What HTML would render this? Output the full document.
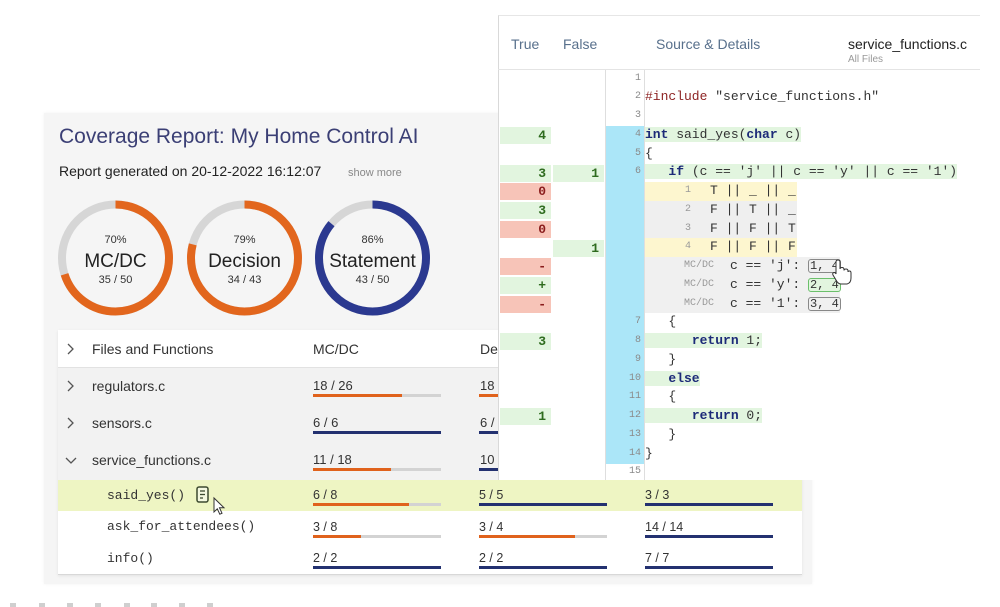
<!DOCTYPE html>
<html><head><meta charset="utf-8">
<style>
html,body{margin:0;padding:0;}
body{width:1000px;height:607px;overflow:hidden;background:#fff;position:relative;font-family:"Liberation Sans",sans-serif;color:#333;}
.a{position:absolute;white-space:pre;}
.s{font-family:"Liberation Sans",sans-serif;}
.m{font-family:"Liberation Mono",monospace;}
.z1{z-index:1}.z2{z-index:2}.z3{z-index:3}.z4{z-index:4}
.kw{color:#1c2a78;font-weight:bold;}
.pp{color:#8e2424;}
.cell{position:absolute;height:17px;line-height:17px;width:51px;text-align:right;box-sizing:border-box;padding-right:5px;font-family:"Liberation Mono",monospace;font-weight:bold;font-size:13px;z-index:3;}
.g{background:#e2f5df;color:#2e6b1e;}
.r{background:#f7c4b8;color:#8a1c1c;}
.ln{position:absolute;left:606px;width:35px;text-align:right;font-family:"Liberation Mono",monospace;font-size:10px;color:#8a8a8a;z-index:3;height:18.75px;line-height:18.75px;}
.code{position:absolute;left:645px;font-family:"Liberation Mono",monospace;font-size:13px;color:#333;z-index:3;height:18.75px;line-height:18.75px;white-space:pre;}
.cb{background:#e2f5df;}
.box{display:inline-block;border:1.5px solid #888;border-radius:3px;line-height:12px;padding:0 1px;font-size:12px;}
.boxg{border-color:#6bbf6b;background:#e2f5df;}
</style></head><body>

<!-- Left panel background -->
<div class="a z1" style="left:44px;top:113px;width:768px;height:471px;background:#f5f5f5;box-shadow:0 0 3px rgba(0,0,0,0.06);"></div>

<div class="a z1 s" style="left:59px;top:124px;line-height:26px;font-size:21px;color:#3b3f75;">Coverage Report: My Home Control AI</div>
<div class="a z1 s" style="left:59px;top:162px;line-height:18px;font-size:14px;color:#222;">Report generated on 20-12-2022 16:12:07</div>
<div class="a z1 s" style="left:348px;top:166px;line-height:14px;font-size:11px;color:#888;">show more</div>

<!-- table box -->
<div class="a z1" style="left:58px;top:330px;width:744px;height:244px;background:#fff;border-bottom:1px solid #d8d8d8;box-shadow:0 1px 3px rgba(0,0,0,0.08);"></div>
<div class="a z1" style="left:58px;top:367px;width:744px;height:113px;background:#f2f2f2;border-top:1px solid #e2e2e2;"></div>
<div class="a z1" style="left:58px;top:480px;width:744px;height:31px;background:#eef5c3;"></div>

<svg class="a z1" style="left:0;top:0" width="1000" height="607" viewBox="0 0 1000 607">
  <!-- donuts -->
  <g fill="none" stroke-width="8">
    <circle cx="115.5" cy="258" r="53.5" stroke="#d6d6d6"/>
    <circle cx="115.5" cy="258" r="53.5" stroke="#e2661d" stroke-dasharray="235.3 400" transform="rotate(-90 115.5 258)"/>
    <circle cx="244.5" cy="258" r="53.5" stroke="#d6d6d6"/>
    <circle cx="244.5" cy="258" r="53.5" stroke="#e2661d" stroke-dasharray="265.6 400" transform="rotate(-90 244.5 258)"/>
    <circle cx="372.5" cy="258" r="53.5" stroke="#d6d6d6"/>
    <circle cx="372.5" cy="258" r="53.5" stroke="#2b3990" stroke-dasharray="289.1 400" transform="rotate(-90 372.5 258)"/>
  </g>
  <g font-family="Liberation Sans, sans-serif" text-anchor="middle" fill="#333">
    <text x="115.5" y="243" font-size="11">70%</text>
    <text x="115.5" y="267" font-size="19" fill="#222">MC/DC</text>
    <text x="115.5" y="283" font-size="11">35 / 50</text>
    <text x="244.5" y="243" font-size="11">79%</text>
    <text x="244.5" y="267" font-size="19" fill="#222">Decision</text>
    <text x="244.5" y="283" font-size="11">34 / 43</text>
    <text x="372.5" y="243" font-size="11">86%</text>
    <text x="372.5" y="267" font-size="19" fill="#222">Statement</text>
    <text x="372.5" y="283" font-size="11">43 / 50</text>
  </g>
  <!-- chevrons -->
  <g fill="none" stroke="#555" stroke-width="1.3">
    <polyline points="68,344 73,349 68,354"/>
    <polyline points="68,381 73,386 68,391"/>
    <polyline points="68,418 73,423 68,428"/>
    <polyline points="66,458 71,463 76,458"/>
  </g>
  <!-- bars -->
  <g>
    <!-- regulators -->
    <rect x="313" y="394" width="128" height="3" fill="#d3d3d3"/><rect x="313" y="394" width="89" height="3" fill="#e0621c"/>
    <rect x="479" y="394" width="128" height="3" fill="#d3d3d3"/><rect x="479" y="394" width="90" height="3" fill="#e0621c"/>
    <!-- sensors -->
    <rect x="313" y="431" width="128" height="3" fill="#233170"/>
    <rect x="479" y="431" width="128" height="3" fill="#233170"/>
    <!-- service_functions -->
    <rect x="313" y="468" width="128" height="3" fill="#d3d3d3"/><rect x="313" y="468" width="78" height="3" fill="#e0621c"/>
    <rect x="479" y="468" width="128" height="3" fill="#233170"/>
    <!-- said_yes -->
    <rect x="313" y="503" width="128" height="3" fill="#d3d3d3"/><rect x="313" y="503" width="96" height="3" fill="#e0621c"/>
    <rect x="479" y="503" width="128" height="3" fill="#233170"/>
    <rect x="645" y="503" width="128" height="3" fill="#233170"/>
    <!-- ask -->
    <rect x="313" y="535" width="128" height="3" fill="#d3d3d3"/><rect x="313" y="535" width="48" height="3" fill="#e0621c"/>
    <rect x="479" y="535" width="128" height="3" fill="#d3d3d3"/><rect x="479" y="535" width="96" height="3" fill="#e0621c"/>
    <rect x="645" y="535" width="128" height="3" fill="#233170"/>
    <!-- info -->
    <rect x="313" y="566" width="128" height="3" fill="#233170"/>
    <rect x="479" y="566" width="128" height="3" fill="#233170"/>
    <rect x="645" y="566" width="128" height="3" fill="#233170"/>
  </g>
  <!-- doc icon -->
  <rect x="197" y="487" width="11" height="15" rx="2" fill="#f4f8e0" stroke="#3d4a30" stroke-width="1.5"/>
  <line x1="200" y1="491" x2="205" y2="491" stroke="#3d4a30" stroke-width="1.3"/>
  <line x1="200" y1="494.5" x2="205" y2="494.5" stroke="#3d4a30" stroke-width="1.3"/>
  <line x1="200" y1="498" x2="203" y2="498" stroke="#3d4a30" stroke-width="1.3"/>
  <!-- arrow cursor -->
  <path d="M214,498 L214,512 L217.3,508.8 L219.8,514.2 L222,513.2 L219.5,507.8 L224,507.8 Z" fill="#fff" stroke="#333" stroke-width="1"/>
  <!-- bottom dots -->
  <g fill="#cfcfcf">
    <rect x="10" y="603" width="6" height="4"/><rect x="39" y="603" width="6" height="4"/>
    <rect x="67" y="603" width="6" height="4"/><rect x="95" y="603" width="6" height="4"/>
    <rect x="124" y="603" width="6" height="4"/><rect x="151" y="603" width="6" height="4"/>
    <rect x="179" y="603" width="6" height="4"/><rect x="207" y="603" width="6" height="4"/>
  </g>
</svg>

<!-- table text -->
<div class="a z1 s" style="left:92px;top:340px;line-height:18px;font-size:14px;color:#333;">Files and Functions</div>
<div class="a z1 s" style="left:313px;top:340px;line-height:18px;font-size:14px;color:#333;">MC/DC</div>
<div class="a z1 s" style="left:480px;top:340px;line-height:18px;font-size:14px;color:#333;">Decision</div>

<div class="a z1 s" style="left:92px;top:377px;line-height:18px;font-size:14px;color:#333;">regulators.c</div>
<div class="a z1 s" style="left:313px;top:378px;line-height:16px;font-size:13px;color:#333;">18 / 26</div>
<div class="a z1 s" style="left:480px;top:378px;line-height:16px;font-size:13px;color:#333;">18 / 26</div>
<div class="a z1 s" style="left:92px;top:414px;line-height:18px;font-size:14px;color:#333;">sensors.c</div>
<div class="a z1 s" style="left:313px;top:415px;line-height:16px;font-size:13px;color:#333;">6 / 6</div>
<div class="a z1 s" style="left:480px;top:415px;line-height:16px;font-size:13px;color:#333;">6 / 6</div>
<div class="a z1 s" style="left:92px;top:451px;line-height:18px;font-size:14px;color:#333;">service_functions.c</div>
<div class="a z1 s" style="left:313px;top:452px;line-height:16px;font-size:13px;color:#333;">11 / 18</div>
<div class="a z1 s" style="left:480px;top:452px;line-height:16px;font-size:13px;color:#333;">10 / 10</div>

<div class="a z1 m" style="left:107px;top:487px;line-height:17px;font-size:13px;color:#333;">said_yes()</div>
<div class="a z1 s" style="left:313px;top:487px;line-height:16px;font-size:12.5px;color:#333;">6 / 8</div>
<div class="a z1 s" style="left:479px;top:487px;line-height:16px;font-size:12.5px;color:#333;">5 / 5</div>
<div class="a z1 s" style="left:645px;top:487px;line-height:16px;font-size:12.5px;color:#333;">3 / 3</div>

<div class="a z1 m" style="left:107px;top:518px;line-height:17px;font-size:13px;color:#333;">ask_for_attendees()</div>
<div class="a z1 s" style="left:313px;top:519px;line-height:16px;font-size:12.5px;color:#333;">3 / 8</div>
<div class="a z1 s" style="left:479px;top:519px;line-height:16px;font-size:12.5px;color:#333;">3 / 4</div>
<div class="a z1 s" style="left:645px;top:519px;line-height:16px;font-size:12.5px;color:#333;">14 / 14</div>

<div class="a z1 m" style="left:107px;top:550px;line-height:17px;font-size:13px;color:#333;">info()</div>
<div class="a z1 s" style="left:313px;top:550px;line-height:16px;font-size:12.5px;color:#333;">2 / 2</div>
<div class="a z1 s" style="left:479px;top:550px;line-height:16px;font-size:12.5px;color:#333;">2 / 2</div>
<div class="a z1 s" style="left:645px;top:550px;line-height:16px;font-size:12.5px;color:#333;">7 / 7</div>

<!-- CODE PANEL -->
<div class="a z2" style="left:498px;top:15px;width:482px;height:465px;background:#fff;border-left:1px solid #d9d9d9;border-top:1px solid #e6e6e6;box-sizing:border-box;"></div>
<div class="a z3" style="left:498px;top:69px;width:482px;height:1px;background:#e4e4e4;"></div>
<div class="a z3" style="left:605px;top:70px;width:1px;height:410px;background:#dedede;"></div>
<div class="a z3" style="left:644px;top:70px;width:1px;height:410px;background:#dedede;"></div>
<div class="a z3" style="left:606px;top:126px;width:38px;height:337.5px;background:#abe6f8;"></div>

<div class="a z3 s" style="left:511px;top:35px;line-height:18px;font-size:14px;color:#58708c;">True</div>
<div class="a z3 s" style="left:563px;top:35px;line-height:18px;font-size:14px;color:#58708c;">False</div>
<div class="a z3 s" style="left:656px;top:35px;line-height:18px;font-size:14px;color:#58708c;">Source &amp; Details</div>
<div class="a z3 s" style="left:848px;top:35px;line-height:18px;font-size:14px;color:#222;">service_functions.c</div>
<div class="a z3 s" style="left:848px;top:54px;line-height:12px;font-size:10px;color:#999;">All Files</div>

<!-- line numbers -->
<div class="ln" style="top:69.7px">1</div>
<div class="ln" style="top:88.45px">2</div>
<div class="ln" style="top:107.2px">3</div>
<div class="ln" style="top:125.95px">4</div>
<div class="ln" style="top:144.7px">5</div>
<div class="ln" style="top:163.45px">6</div>
<div class="ln" style="top:313.45px">7</div>
<div class="ln" style="top:332.2px">8</div>
<div class="ln" style="top:350.95px">9</div>
<div class="ln" style="top:369.7px">10</div>
<div class="ln" style="top:388.45px">11</div>
<div class="ln" style="top:407.2px">12</div>
<div class="ln" style="top:425.95px">13</div>
<div class="ln" style="top:444.7px">14</div>
<div class="ln" style="top:463.45px">15</div>

<!-- true/false cells -->
<div class="cell g" style="left:500px;top:127px">4</div>
<div class="cell g" style="left:500px;top:164.5px">3</div>
<div class="cell g" style="left:553px;top:164.5px">1</div>
<div class="cell r" style="left:500px;top:183.2px">0</div>
<div class="cell g" style="left:500px;top:202px">3</div>
<div class="cell r" style="left:500px;top:220.7px">0</div>
<div class="cell g" style="left:553px;top:239.5px">1</div>
<div class="cell r" style="left:500px;top:258.2px">-</div>
<div class="cell g" style="left:500px;top:277px">+</div>
<div class="cell r" style="left:500px;top:295.7px">-</div>
<div class="cell g" style="left:500px;top:333.2px">3</div>
<div class="cell g" style="left:500px;top:408.2px">1</div>

<!-- code lines -->
<div class="code" style="top:88.45px"><span class="pp">#include</span> "service_functions.h"</div>
<div class="code" style="top:125.95px"><span class="cb"><span class="kw">int</span> said_yes(<span class="kw">char</span> c)</span></div>
<div class="code" style="top:144.7px">{</div>
<div class="code" style="top:163.45px"><span class="cb">   <span class="kw">if</span> (c == 'j' || c == 'y' || c == '1')</span></div>

<!-- condition rows -->
<div class="a z3" style="left:645px;top:182.2px;width:152px;height:18.75px;background:#fdf6cf;"></div>
<div class="a z3" style="left:645px;top:200.95px;width:152px;height:37.5px;background:#efefef;"></div>
<div class="a z3" style="left:645px;top:238.45px;width:152px;height:18.75px;background:#fdf6cf;"></div>
<div class="a z3" style="left:645px;top:257.2px;width:195px;height:56.25px;background:#f0f0f0;"></div>

<div class="a z3 m" style="left:685px;top:182.2px;line-height:18.75px;font-size:10px;color:#999;">1</div>
<div class="a z3 m" style="left:685px;top:200.95px;line-height:18.75px;font-size:10px;color:#999;">2</div>
<div class="a z3 m" style="left:685px;top:219.7px;line-height:18.75px;font-size:10px;color:#999;">3</div>
<div class="a z3 m" style="left:685px;top:238.45px;line-height:18.75px;font-size:10px;color:#999;">4</div>
<div class="a z3 m" style="left:710px;top:182.2px;line-height:18.75px;font-size:13px;color:#333;">T || _ || _</div>
<div class="a z3 m" style="left:710px;top:200.95px;line-height:18.75px;font-size:13px;color:#333;">F || T || _</div>
<div class="a z3 m" style="left:710px;top:219.7px;line-height:18.75px;font-size:13px;color:#333;">F || F || T</div>
<div class="a z3 m" style="left:710px;top:238.45px;line-height:18.75px;font-size:13px;color:#333;">F || F || F</div>

<div class="a z3 m" style="left:684px;top:257.2px;line-height:18.75px;font-size:10px;color:#999;">MC/DC</div>
<div class="a z3 m" style="left:684px;top:275.95px;line-height:18.75px;font-size:10px;color:#999;">MC/DC</div>
<div class="a z3 m" style="left:684px;top:294.7px;line-height:18.75px;font-size:10px;color:#999;">MC/DC</div>
<div class="a z3 m" style="left:730px;top:257.2px;line-height:18.75px;font-size:13px;color:#333;">c == 'j': <span class="box">1, 4</span></div>
<div class="a z3 m" style="left:730px;top:275.95px;line-height:18.75px;font-size:13px;color:#333;">c == 'y': <span class="box boxg">2, 4</span></div>
<div class="a z3 m" style="left:730px;top:294.7px;line-height:18.75px;font-size:13px;color:#333;">c == '1': <span class="box">3, 4</span></div>

<div class="code" style="top:313.45px">   {</div>
<div class="code" style="top:332.2px"><span class="cb">      <span class="kw">return</span> 1;</span></div>
<div class="code" style="top:350.95px">   }</div>
<div class="code" style="top:369.7px"><span class="cb">   <span class="kw">else</span></span></div>
<div class="code" style="top:388.45px">   {</div>
<div class="code" style="top:407.2px"><span class="cb">      <span class="kw">return</span> 0;</span></div>
<div class="code" style="top:425.95px">   }</div>
<div class="code" style="top:444.7px">}</div>

<!-- hand cursor -->
<svg class="a z4" style="left:0;top:0" width="1000" height="607" viewBox="0 0 1000 607">
  <path d="M836,262 Q836,260 838,260 Q840,260 840,262 L840,269 Q840,267.5 842,267.5 Q844,267.5 844,269.5 L844,270.5 Q844,269 846,269 Q848,269 848,271 L848,272 Q848,271 849.5,271 Q851,271 851,273 L851,278 Q851,283 847,284 L841,284 Q838,284 836,280 L833,275 Q832,273 834,272.5 Q835.5,272.5 836,274 Z" fill="#fff" stroke="#333" stroke-width="1"/>
</svg>

</body></html>
